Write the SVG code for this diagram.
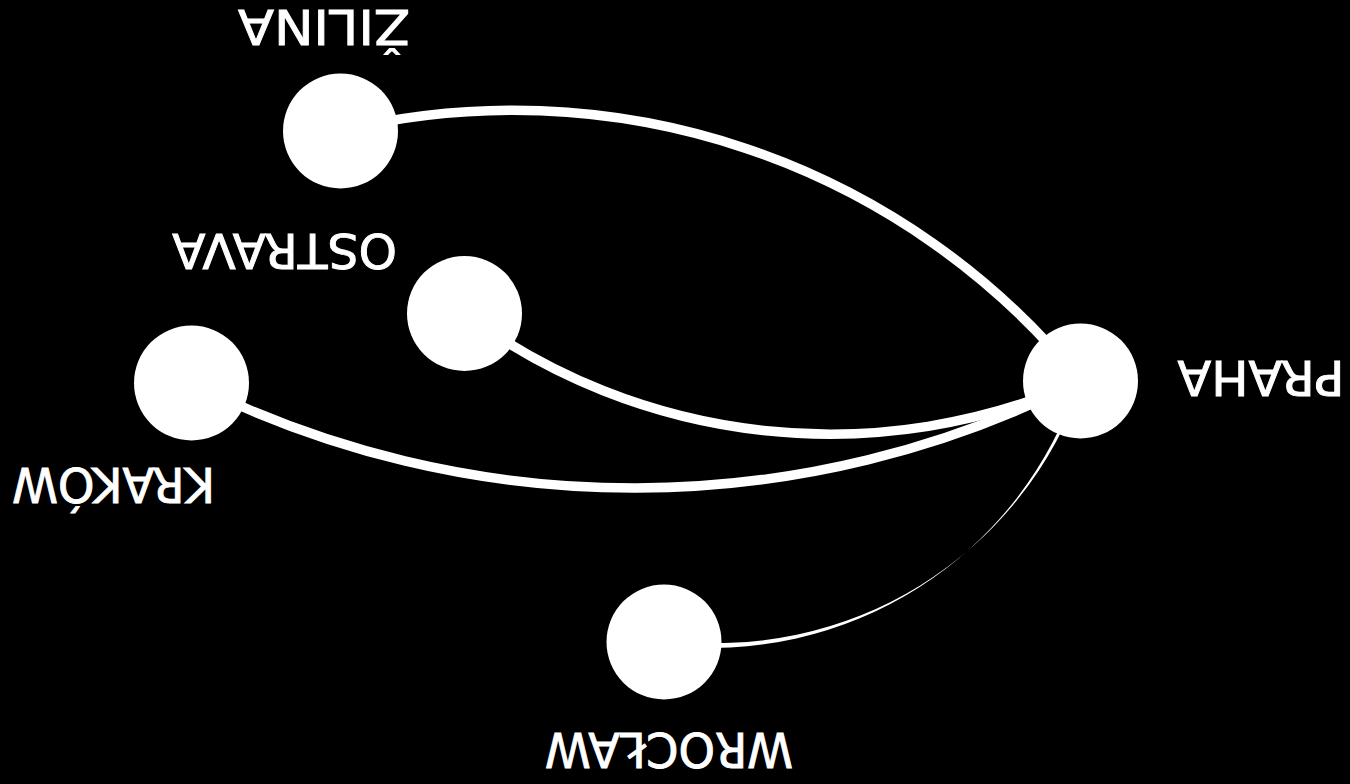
<svg xmlns="http://www.w3.org/2000/svg" width="1350" height="784" viewBox="0 0 1350 784">
<style>
.edge{fill:none;stroke:#fff;stroke-width:9.5}
.node circle{fill:#fff}
.lbl{fill:#fff;stroke:#fff;stroke-width:0.9;font-family:"DejaVu Sans","Liberation Sans",sans-serif;font-size:48px;text-anchor:middle}
</style>
<rect width="1350" height="784" fill="#000"/>
<g id="connectors">
<path class="edge" d="M340.5 131 A730 730 0 0 1 1080.5 381"/>
<path class="edge" d="M464.5 313.5 A615 615 0 0 0 1080.5 381"/>
<path class="edge" d="M191.5 383 A985 985 0 0 0 1080.5 381"/>
<path fill="#fff" d="M663.7 644.8 A385 385 0 0 0 1078.6 380.4 L1082.4 381.6 A385 385 0 0 1 664.3 639.2 Z"/>
</g>
<g id="zilina" class="node"><circle cx="340.5" cy="131" r="57.5"/><text class="lbl" transform="translate(324 27) rotate(180)" y="17.5" textLength="172" lengthAdjust="spacingAndGlyphs">ŽILINA</text></g>
<g id="ostrava" class="node"><circle cx="464.5" cy="313.5" r="57.5"/><text class="lbl" transform="translate(284.5 251) rotate(180)" y="17.5" textLength="225" lengthAdjust="spacingAndGlyphs">OSTRAVA</text></g>
<g id="krakow" class="node"><circle cx="191.5" cy="383" r="57.5"/><text class="lbl" transform="translate(113.5 485) rotate(180)" y="17.5" textLength="203" lengthAdjust="spacingAndGlyphs">KRAKÓW</text></g>
<g id="praha" class="node"><circle cx="1080.5" cy="381" r="57.5"/><text class="lbl" transform="translate(1261 378) rotate(180)" y="17.5" textLength="167" lengthAdjust="spacingAndGlyphs">PRAHA</text></g>
<g id="wroclaw" class="node"><circle cx="664" cy="642" r="57.5"/><text class="lbl" transform="translate(669 750) rotate(180)" y="17.5" textLength="248" lengthAdjust="spacingAndGlyphs">WROCŁAW</text></g>
</svg>
